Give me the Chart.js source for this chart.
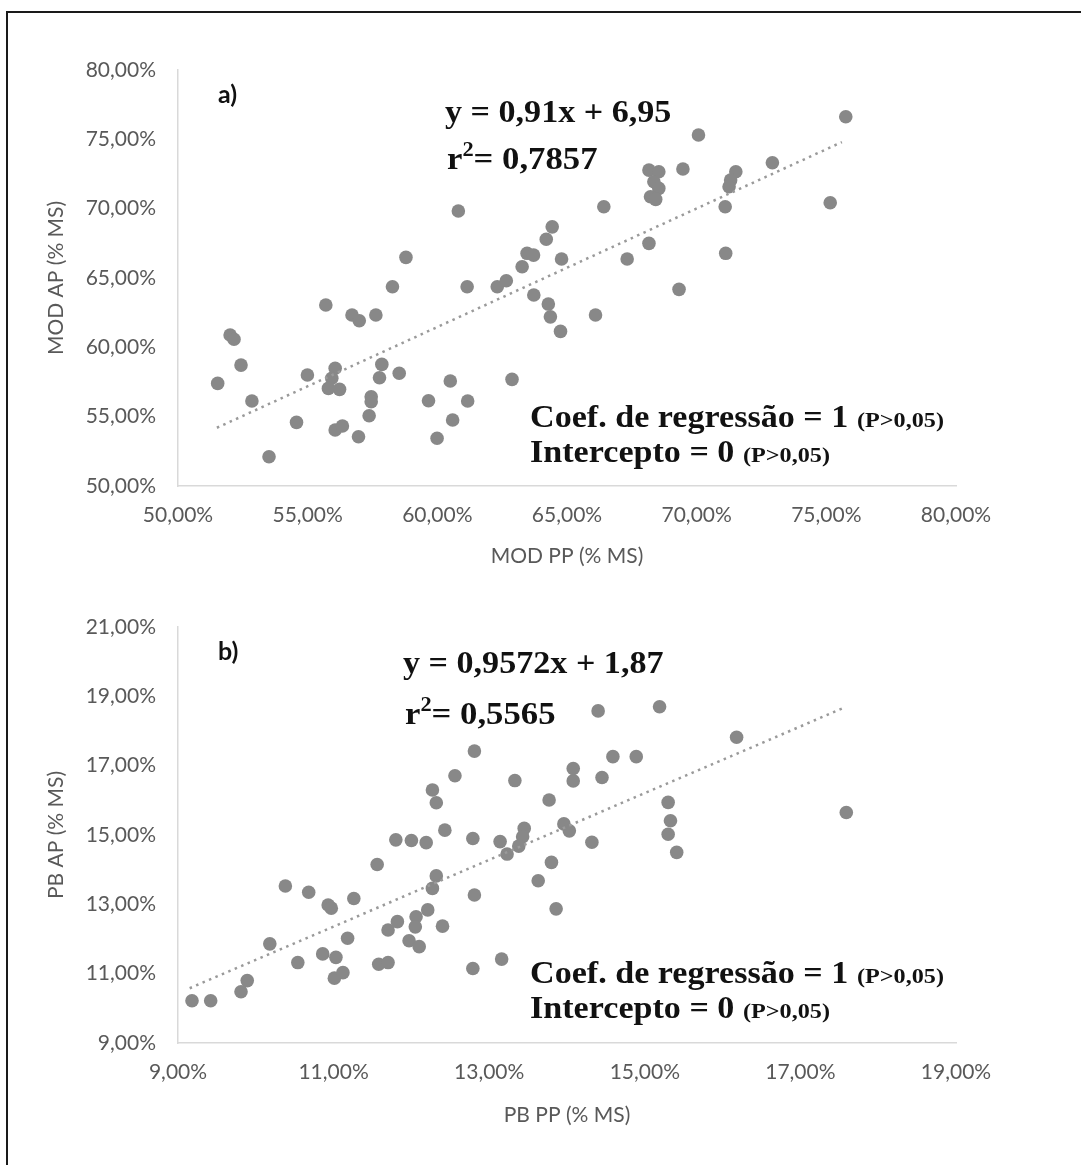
<!DOCTYPE html>
<html>
<head>
<meta charset="utf-8">
<script src="https://cdn.jsdelivr.net/npm/chart.js@4.4.1/dist/chart.umd.min.js"></script>
<style>
  body { margin: 0; background: #fff; width: 1081px; height: 1165px; position: relative; overflow: hidden; }
  #frame { position: absolute; left: 6px; top: 11px; width: 1100px; height: 1200px;
           border-left: 2px solid #1a1a1a; border-top: 2px solid #1a1a1a; }
  canvas { position: absolute; left: 0; }
  #chart-a { top: 0; }
  #chart-b { top: 590px; }
</style>
</head>
<body>
<div id="frame"></div>
<canvas id="chart-a" width="1081" height="590"></canvas>
<canvas id="chart-b" width="1081" height="575"></canvas>
<script>
// a) MOD PP (x) vs MOD AP (y), % MS
const modPP = [
  58.79, 63.46, 63.71, 63.27, 58.27, 61.15, 62.31, 62.66, 63.72, 55.70,
  56.71, 56.99, 57.63, 64.28, 64.36, 64.75, 52.01, 52.16, 52.43, 51.53,
  52.85, 54.99, 56.06, 55.93, 55.80, 56.23, 57.86, 57.77, 58.53, 57.45,
  57.45, 57.37, 56.96, 56.06, 56.34, 54.57, 53.51, 59.66, 60.50, 61.17,
  60.59, 59.99, 62.88, 60.81, 75.75, 70.07, 68.16, 68.54, 68.35, 68.54,
  68.22, 68.42, 69.47, 72.92, 71.51, 71.31, 71.25, 66.42, 71.10, 75.15,
  64.43, 64.20, 64.79, 67.32, 68.16, 71.12, 66.10, 69.32,
];
const modAP = [
  66.49, 66.78, 66.65, 65.81, 64.37, 64.37, 64.37, 64.80, 63.77, 63.05,
  62.33, 61.92, 62.33, 63.12, 62.20, 61.15, 60.89, 60.58, 58.72, 57.40,
  56.13, 58.00, 58.49, 57.77, 57.04, 56.97, 58.77, 57.81, 58.13, 56.44,
  56.08, 55.07, 53.55, 54.04, 54.33, 54.59, 52.11, 56.15, 57.57, 56.13,
  54.76, 53.44, 57.69, 69.83, 76.63, 75.31, 72.78, 72.66, 71.94, 71.46,
  70.86, 70.67, 72.86, 73.31, 72.66, 72.06, 71.58, 70.14, 70.14, 70.43,
  68.69, 67.79, 66.37, 66.37, 67.50, 66.78, 62.33, 64.18,
];
const modTrendX = [51.5, 75.6];
const modTrendY = [54.2, 74.8];
const modTicks = { min: 50, max: 80, step: 5 };

// b) PB PP (x) vs PB AP (y), % MS
const pbPP = [
  12.81, 12.56, 13.33, 12.27, 12.32, 12.43, 11.80, 12.00, 12.19, 12.79,
  13.14, 13.45, 13.43, 13.38, 13.23, 11.56, 10.38, 10.68, 10.93, 10.97,
  11.26, 12.32, 12.27, 12.81, 12.21, 12.06, 12.05, 11.82, 11.70, 12.40,
  11.18, 11.97, 12.10, 10.18, 10.86, 11.03, 10.54, 11.58, 11.70, 12.79,
  13.16, 11.01, 11.12, 9.81, 9.89, 9.18, 9.42, 14.40, 15.19, 16.18,
  14.59, 14.89, 14.08, 14.08, 14.45, 13.77, 13.96, 14.03, 14.32, 15.30,
  15.33, 15.30, 15.41, 17.59, 13.80, 13.63, 13.86,
];
const pbAP = [
  17.42, 16.71, 16.57, 16.30, 15.93, 15.14, 14.86, 14.84, 14.78, 14.90,
  14.81, 15.19, 14.95, 14.68, 14.45, 14.15, 13.53, 13.35, 12.98, 12.89,
  13.17, 13.82, 13.46, 13.27, 12.84, 12.64, 12.35, 12.50, 12.26, 12.37,
  12.02, 11.95, 11.78, 11.86, 11.57, 11.47, 11.32, 11.27, 11.32, 11.15,
  11.42, 10.87, 11.03, 10.48, 10.80, 10.22, 10.22, 18.58, 18.70, 17.82,
  17.26, 17.26, 16.92, 16.56, 16.66, 16.01, 15.32, 15.12, 14.79, 15.94,
  15.41, 15.02, 14.50, 15.65, 14.21, 13.68, 12.87,
];
const pbTrendX = [9.15, 17.57];
const pbTrendY = [10.58, 18.68];
const pbTicks = { min: 9, max: 21, step: 2 };
const pbTicksX = { min: 9, max: 19, step: 2 };

const SERIF = "'Liberation Serif', 'Times New Roman', serif";
const SANS = "Lato, 'Open Sans', sans-serif";
const GREY = "#595959";

function pct(v) {
  return v.toFixed(2).replace(".", ",") + "%";
}

function toPoints(xs, ys) {
  return xs.map((x, i) => ({ x: x, y: ys[i] }));
}

// draws the letter tags and regression texts (serif text is a bit stretched in the original)
const notesPlugin = {
  id: "notes",
  afterDraw(chart, args, opts) {
    const ctx = chart.ctx;
    (opts.items || []).forEach((item) => {
      ctx.save();
      ctx.textBaseline = "alphabetic";
      ctx.textAlign = "left";
      ctx.fillStyle = "#111";
      ctx.translate(item.x, item.y);
      ctx.scale(item.sx || 1, 1);
      let x = 0;
      item.parts.forEach((p) => {
        ctx.font = p.f;
        ctx.fillText(p.t, x, p.dy || 0);
        x += ctx.measureText(p.t).width;
      });
      ctx.restore();
    });
  },
};

function regressionNotes(tag, tagY, eq, eqX, eqY, r2, r2X, r2Y, coefY, intY) {
  const big = "bold 31px " + SERIF;
  const small = "bold 22px " + SERIF;
  return [
    { x: 218, y: tagY, parts: [{ t: tag, f: "bold 25px " + SANS }] },
    { x: eqX, y: eqY, sx: 1.1, parts: [{ t: eq, f: big }] },
    { x: r2X, y: r2Y, sx: 1.12, parts: [
      { t: "r", f: big },
      { t: "2", f: "bold 20px " + SERIF, dy: -13 },
      { t: "= " + r2, f: big },
    ] },
    { x: 530, y: coefY, sx: 1.1, parts: [{ t: "Coef. de regressão = 1 ", f: big }, { t: "(P>0,05)", f: small }] },
    { x: 530, y: intY, sx: 1.1, parts: [{ t: "Intercepto = 0 ", f: big }, { t: "(P>0,05)", f: small }] },
  ];
}

function axisOptions(range, titleText, titlePad, isX, size) {
  return {
    type: "linear",
    min: range.min,
    max: range.max,
    ticks: {
      stepSize: range.step,
      callback: pct,
      color: GREY,
      font: { family: SANS, size: 21 },
      padding: isX ? 17 : 22,
      maxRotation: 0,
      autoSkip: false,
    },
    grid: { display: false, drawTicks: false },
    border: { display: true, color: "#d9d9d9", width: 1.5 },
    title: {
      display: true,
      text: titleText,
      color: GREY,
      font: { family: SANS, size: 21 },
      padding: isX ? { top: 0, bottom: titlePad } : { top: titlePad, bottom: 0 },
    },
    afterFit: (s) => {
      if (isX) s.height = size;
      else s.width = size;
    },
  };
}

function createScatter(canvasId, xs, ys, trendX, trendY, xRange, yRange, xTitle, yTitle, layout, notes) {
  const ctx = document.getElementById(canvasId).getContext("2d");
  new Chart(ctx, {
    type: "scatter",
    data: {
      datasets: [
        {
          type: "line",
          data: toPoints(trendX, trendY),
          borderColor: "#9a9a9a",
          borderWidth: 2.5,
          borderDash: [2.5, 4.5],
          pointRadius: 0,
          fill: false,
          order: 0,
        },
        {
          data: toPoints(xs, ys),
          backgroundColor: "#888888",
          borderWidth: 0,
          pointRadius: 6.8,
          order: 1,
        },
      ],
    },
    options: {
      responsive: false,
      animation: false,
      events: [],
      layout: { padding: { left: 0, top: layout.top, right: 125, bottom: 0 } },
      plugins: {
        legend: { display: false },
        tooltip: { enabled: false },
        notes: { items: notes },
      },
      scales: {
        x: axisOptions(xRange, xTitle, layout.xTitlePad, true, layout.xHeight),
        y: axisOptions(yRange, yTitle, 44, false, 178),
      },
    },
    plugins: [notesPlugin],
  });
}

function main() {
  createScatter(
    "chart-a", modPP, modAP, modTrendX, modTrendY, modTicks, modTicks,
    "MOD PP (% MS)", "MOD AP (% MS)",
    { top: 70, xHeight: 104, xTitlePad: 21 },
    regressionNotes("a)", 103, "y = 0,91x + 6,95", 445, 122, "0,7857", 447, 169, 427, 462)
  );
  createScatter(
    "chart-b", pbPP, pbAP, pbTrendX, pbTrendY, pbTicksX, pbTicks,
    "PB PP (% MS)", "PB AP (% MS)",
    { top: 37, xHeight: 122, xTitlePad: 37 },
    regressionNotes("b)", 70, "y = 0,9572x + 1,87", 403, 83, "0,5565", 405, 134, 393, 428)
  );
}

document.addEventListener("DOMContentLoaded", main);
</script>
</body>
</html>
